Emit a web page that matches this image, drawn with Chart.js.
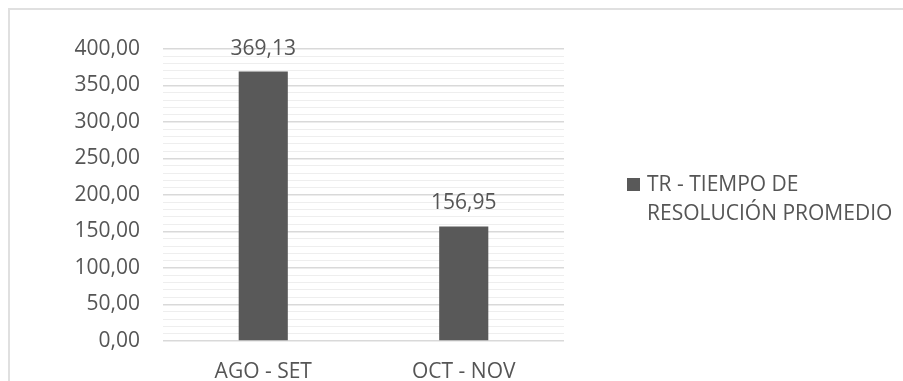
<!DOCTYPE html>
<html>
<head>
<meta charset="utf-8">
<script src="https://cdn.jsdelivr.net/npm/chart.js@4"></script>
<style>
  html, body { margin: 0; padding: 0; background: #fff; overflow: hidden; }
  #wrap { position: relative; width: 903px; height: 381px; overflow: hidden; }
  #frame { position: absolute; left: 8px; top: 8px; width: 2000px; height: 2000px;
           border-left: 2px solid #e0e0e0; border-top: 2px solid #e0e0e0; }
  canvas { position: absolute; left: 0; top: 0; }
</style>
</head>
<body>
<div id="wrap">
  <div id="frame"></div>
  <canvas id="chart" width="903" height="400"></canvas>
</div>
<script>
// datos del gráfico
const categories = ["AGO - SET", "OCT - NOV"]
const tiempoPromedio = [369.13, 156.95]
const seriesLabel = "TR - TIEMPO DE RESOLUCIÓN PROMEDIO"
const yMax = 400
const yMinorStep = 10
const yMajorStep = 50

const textColor = "#555555"
const fontFamily = "'Open Sans', sans-serif"
const fontSize = 21

function fmt(v) {
  return v.toFixed(2).replace(".", ",")
}

// etiquetas de valor sobre cada barra
const valueLabels = {
  id: "valueLabels",
  afterDatasetsDraw(chart) {
    const ctx = chart.ctx
    ctx.save()
    ctx.font = fontSize + "px " + fontFamily
    ctx.fillStyle = textColor
    ctx.textAlign = "center"
    ctx.textBaseline = "alphabetic"
    chart.getDatasetMeta(0).data.forEach((bar, i) => {
      ctx.fillText(fmt(chart.data.datasets[0].data[i]), bar.x, bar.y - 17)
    })
    ctx.restore()
  }
}

// leyenda a la derecha, con salto de línea
const sideLegend = {
  id: "sideLegend",
  afterDraw(chart) {
    const ctx = chart.ctx
    const ds = chart.data.datasets[0]
    ctx.save()
    ctx.font = fontSize + "px " + fontFamily
    const x0 = chart.chartArea.right + 63
    const tx = x0 + 20
    const maxW = chart.width - tx - 4
    const words = ds.label.split(" ")
    const lines = []
    let cur = ""
    words.forEach(w => {
      const t = cur ? cur + " " + w : w
      if (ctx.measureText(t).width > maxW && cur) {
        lines.push(cur)
        cur = w
      } else {
        cur = t
      }
    })
    lines.push(cur)
    const lineH = 29
    const mid = (chart.chartArea.top + chart.chartArea.bottom) / 2
    const firstBase = mid - 4 - (lines.length - 2) * lineH / 2
    ctx.fillStyle = ds.backgroundColor
    ctx.fillRect(x0, firstBase - 13, 13, 13)
    ctx.fillStyle = textColor
    ctx.textBaseline = "alphabetic"
    ctx.textAlign = "left"
    lines.forEach((l, i) => ctx.fillText(l, tx, firstBase + i * lineH))
    ctx.restore()
  }
}

new Chart(document.getElementById("chart").getContext("2d"), {
  type: "bar",
  data: {
    labels: categories,
    datasets: [{
      label: seriesLabel,
      data: tiempoPromedio,
      backgroundColor: "#595959",
      borderWidth: 0,
      categoryPercentage: 1,
      barPercentage: 0.245
    }]
  },
  options: {
    responsive: false,
    animation: false,
    layout: { padding: { left: 0, right: 339, top: 49, bottom: 9 } },
    plugins: {
      legend: { display: false },
      tooltip: { enabled: false }
    },
    scales: {
      x: {
        grid: { display: false, drawTicks: false },
        border: { display: false },
        ticks: { color: textColor, font: { family: fontFamily, size: fontSize }, padding: 18 },
        afterFit(scale) { scale.height = 50 }
      },
      y: {
        min: 0,
        max: yMax,
        border: { display: false },
        grid: {
          drawTicks: false,
          color: c => c.tick.value % yMajorStep === 0 ? "#d9d9d9" : "#eeeeee",
          lineWidth: c => c.tick.value % yMajorStep === 0 ? 1.5 : 1
        },
        ticks: {
          stepSize: yMinorStep,
          autoSkip: false,
          maxTicksLimit: 100,
          padding: 23,
          color: textColor,
          font: { family: fontFamily, size: fontSize },
          callback: v => v % yMajorStep === 0 ? fmt(v) : ""
        },
        afterFit(scale) { scale.width = 163 }
      }
    }
  },
  plugins: [valueLabels, sideLegend]
})
</script>
</body>
</html>
